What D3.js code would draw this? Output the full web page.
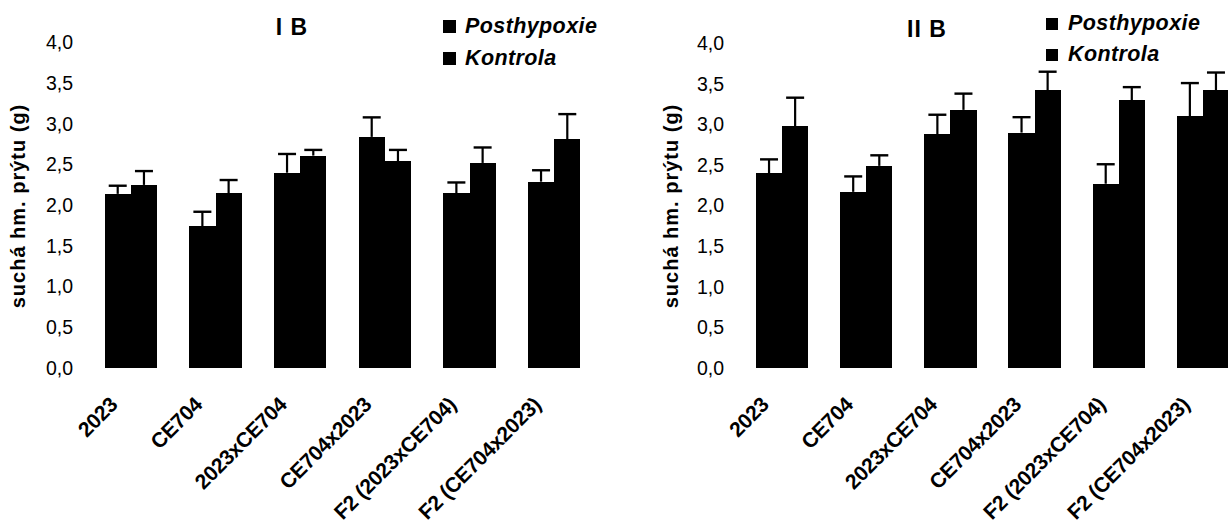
<!DOCTYPE html>
<html>
<head>
<meta charset="utf-8">
<script src="https://cdn.jsdelivr.net/npm/d3@7"></script>
<style>
    body { margin: 0; background: #fff; }
    svg { display: block; font-family: "Liberation Sans", Arial, sans-serif; }
</style>
</head>
<body>
<svg id="chart"></svg>
<script>
// categories and series shared by both panels
const categories = ["2023", "CE704", "2023xCE704", "CE704x2023", "F2 (2023xCE704)", "F2 (CE704x2023)"];
const seriesNames = ["Posthypoxie", "Kontrola"];
const yTicks = [0, 0.5, 1, 1.5, 2, 2.5, 3, 3.5, 4];

// panel I B
const ibPosthypoxie = [2.14, 1.74, 2.40, 2.84, 2.15, 2.29];
const ibPosthypoxieErr = [0.10, 0.18, 0.23, 0.24, 0.13, 0.14];
const ibKontrola = [2.25, 2.15, 2.61, 2.54, 2.52, 2.81];
const ibKontrolaErr = [0.17, 0.16, 0.07, 0.14, 0.19, 0.31];

// panel II B
const iibPosthypoxie = [2.40, 2.17, 2.88, 2.90, 2.27, 3.10];
const iibPosthypoxieErr = [0.17, 0.19, 0.24, 0.19, 0.24, 0.41];
const iibKontrola = [2.98, 2.49, 3.18, 3.42, 3.30, 3.42];
const iibKontrolaErr = [0.35, 0.13, 0.20, 0.23, 0.16, 0.22];

const width = 1228, height = 525;

const svg = d3.select("#chart")
    .attr("width", width)
    .attr("height", height);

svg.append("rect")
    .attr("width", width)
    .attr("height", height)
    .attr("fill", "#fff");

drawPanel({
    title: "I B",
    values: [ibPosthypoxie, ibKontrola],
    errors: [ibPosthypoxieErr, ibKontrolaErr],
    xRange: [88.5, 596.5],
    yRange: [368, 42.5],
    tickX: 73,
    yTitleX: 25,
    titleX: 292, titleY: 35,
    legendX: 443, legendY: 20, legendSize: 13, legendGap: 32
});

drawPanel({
    title: "II B",
    values: [iibPosthypoxie, iibKontrola],
    errors: [iibPosthypoxieErr, iibKontrolaErr],
    xRange: [740, 1245],
    yRange: [368, 43.3],
    tickX: 724,
    yTitleX: 678,
    titleX: 927, titleY: 37,
    legendX: 1046, legendY: 18, legendSize: 12, legendGap: 31
});

function drawPanel(cfg) {
    const g = svg.append("g");

    const x0 = d3.scaleBand()
        .domain(categories)
        .range(cfg.xRange)
        .paddingInner(0.38)
        .paddingOuter(0.19);

    const x1 = d3.scaleBand()
        .domain(seriesNames)
        .range([0, x0.bandwidth()]);

    const y = d3.scaleLinear()
        .domain([0, 4])
        .range(cfg.yRange);

    // y axis: labels only, decimal comma
    const yAxis = g.append("g")
        .attr("transform", `translate(${cfg.tickX + 4},0)`)
        .call(d3.axisLeft(y)
            .tickValues(yTicks)
            .tickSize(0)
            .tickPadding(4)
            .tickFormat(d => d3.format(".1f")(d).replace(".", ",")));
    yAxis.select(".domain").remove();
    yAxis.selectAll("text")
        .attr("font-size", 19.5)
        .attr("font-family", "Liberation Sans, Arial, sans-serif")
        .attr("fill", "#000");

    // x axis: rotated category labels
    const xAxis = g.append("g")
        .attr("transform", `translate(0,${cfg.yRange[0]})`)
        .call(d3.axisBottom(x0).tickSize(0));
    xAxis.select(".domain").remove();
    xAxis.selectAll("text")
        .attr("x", 0)
        .attr("y", 0)
        .attr("dy", null)
        .attr("text-anchor", "end")
        .attr("transform", "translate(-12,38) rotate(-45)")
        .attr("font-size", 21)
        .attr("font-weight", "bold")
        .attr("letter-spacing", -0.3)
        .attr("font-family", "Liberation Sans, Arial, sans-serif")
        .attr("fill", "#000");

    // bars
    const rows = [];
    categories.forEach((c, i) => {
        seriesNames.forEach((s, j) => {
            rows.push({ cat: c, series: s, value: cfg.values[j][i], err: cfg.errors[j][i] });
        });
    });

    g.selectAll(".bar")
        .data(rows)
        .enter()
        .append("rect")
        .attr("class", "bar")
        .attr("x", d => x0(d.cat) + x1(d.series))
        .attr("y", d => y(d.value))
        .attr("width", x1.bandwidth())
        .attr("height", d => y(0) - y(d.value))
        .attr("shape-rendering", "crispEdges")
        .attr("fill", "#000");

    // error bars (upper only)
    const cx = d => x0(d.cat) + x1(d.series) + x1.bandwidth() / 2;

    g.selectAll(".err")
        .data(rows)
        .enter()
        .append("line")
        .attr("class", "err")
        .attr("x1", cx)
        .attr("x2", cx)
        .attr("y1", d => y(d.value))
        .attr("y2", d => y(d.value + d.err))
        .attr("stroke", "#000")
        .attr("stroke-width", 2.2);

    g.selectAll(".cap")
        .data(rows)
        .enter()
        .append("line")
        .attr("class", "cap")
        .attr("x1", d => cx(d) - 9)
        .attr("x2", d => cx(d) + 9)
        .attr("y1", d => y(d.value + d.err))
        .attr("y2", d => y(d.value + d.err))
        .attr("stroke", "#000")
        .attr("stroke-width", 2.4);

    // y axis title
    g.append("text")
        .attr("transform", `translate(${cfg.yTitleX},206) rotate(-90)`)
        .attr("text-anchor", "middle")
        .attr("font-size", 20)
        .attr("font-weight", "bold")
        .attr("letter-spacing", 1)
        .text("suchá hm. prýtu (g)");

    // panel title
    g.append("text")
        .attr("x", cfg.titleX)
        .attr("y", cfg.titleY)
        .attr("text-anchor", "middle")
        .attr("font-size", 23)
        .attr("font-weight", "bold")
        .attr("letter-spacing", 1)
        .text(cfg.title);

    // legend
    const legend = g.selectAll(".legend")
        .data(seriesNames)
        .enter()
        .append("g")
        .attr("class", "legend")
        .attr("transform", (_, i) => `translate(${cfg.legendX},${cfg.legendY + i * cfg.legendGap})`);

    legend.append("rect")
        .attr("width", cfg.legendSize)
        .attr("height", cfg.legendSize)
        .attr("fill", "#000");

    legend.append("text")
        .attr("x", 22)
        .attr("y", cfg.legendSize)
        .attr("font-size", 21.5)
        .attr("font-weight", "bold")
        .attr("font-style", "italic")
        .attr("letter-spacing", 0.4)
        .text(d => d);
}
</script>
</body>
</html>
